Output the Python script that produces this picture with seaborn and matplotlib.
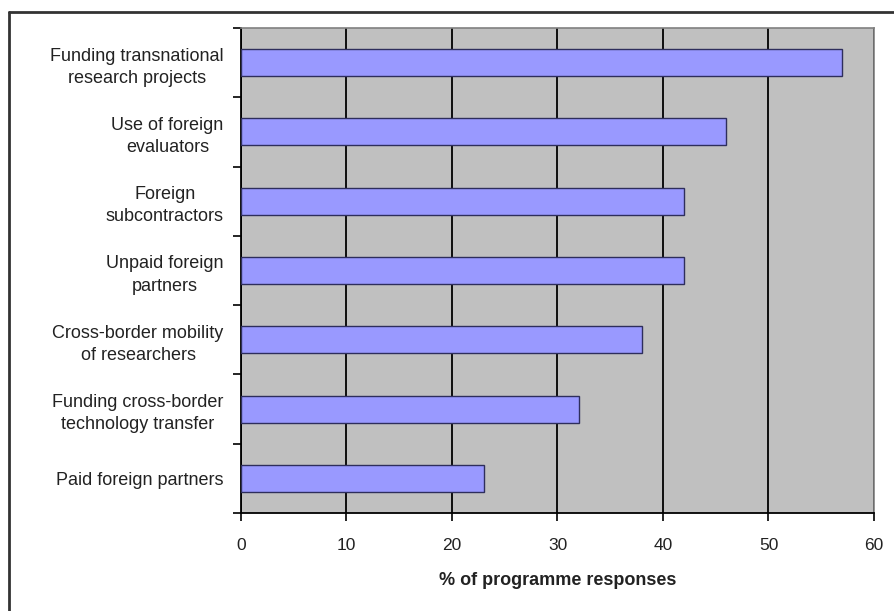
import matplotlib
matplotlib.use("Agg")
import matplotlib.pyplot as plt
from matplotlib.lines import Line2D
import numpy as np
import pandas as pd
import seaborn as sns

categories = [
    "Funding transnational\nresearch projects",
    "Use of foreign\nevaluators",
    "Foreign\nsubcontractors",
    "Unpaid foreign\npartners",
    "Cross-border mobility\nof researchers",
    "Funding cross-border\ntechnology transfer",
    "Paid foreign partners",
]
values = [57, 46, 42, 42, 38, 32, 23]
x_ticks = [0, 10, 20, 30, 40, 50, 60]
x_label = "% of programme responses"

df = pd.DataFrame({"category": categories, "value": values})

sns.set_theme(style="white")
plt.rcParams["font.family"] = ["Liberation Sans", "DejaVu Sans"]

fig = plt.figure(figsize=(8.95, 6.11), dpi=100)
ax = fig.add_axes([241 / 895, 1 - 513 / 611, (874 - 241) / 895, (513 - 28) / 611])
ax.set_facecolor("#C0C0C0")

sns.barplot(data=df, y="category", x="value", orient="h", color="#9999FF",
            saturation=1, width=0.39, edgecolor="#2E2E5C", linewidth=1.0,
            ax=ax, zorder=3)

# vertical gridlines
ax.set_xlim(0, 60)
ax.set_xticks(x_ticks)
ax.set_xticklabels([str(t) for t in x_ticks])
ax.xaxis.grid(True, color="black", linewidth=1.3, zorder=1)
ax.set_axisbelow(True)

# category ticks on boundaries, labels centred between
n = len(categories)
ax.set_ylim(n - 0.5, -0.5)
ax.set_yticks(np.arange(-0.5, n, 1.0))
ax.set_yticklabels([""] * (n + 1))
ax.set_yticks(np.arange(n), minor=True)
ax.set_yticklabels(categories, minor=True)
ax.tick_params(axis="y", which="major", length=6, width=1.2, color="black",
               direction="out", left=True)
ax.tick_params(axis="y", which="minor", length=0, pad=12.5, labelsize=13,
               labelcolor="#222222")
for t in ax.get_yticklabels(minor=True):
    t.set_multialignment("center")
    t.set_linespacing(1.4)
ax.tick_params(axis="x", which="major", length=6, width=1.2, color="black",
               direction="out", bottom=True, pad=12, labelsize=12.5,
               labelcolor="#222222")

ax.set_ylabel("")
ax.set_xlabel(x_label, fontsize=13, fontweight="bold", color="#222222",
              labelpad=14)

for side in ["left", "bottom"]:
    ax.spines[side].set_color("black")
    ax.spines[side].set_linewidth(1.3)
for side in ["top", "right"]:
    ax.spines[side].set_color("#808080")
    ax.spines[side].set_linewidth(1.2)

# outer frame
fig.add_artist(Line2D([9 / 895, 9 / 895], [0, 1 - 12 / 611],
                      transform=fig.transFigure, color="#333333", linewidth=2))
fig.add_artist(Line2D([9 / 895, 1], [1 - 12 / 611, 1 - 12 / 611],
                      transform=fig.transFigure, color="#333333", linewidth=2))

fig.savefig("out.png", dpi=100)
